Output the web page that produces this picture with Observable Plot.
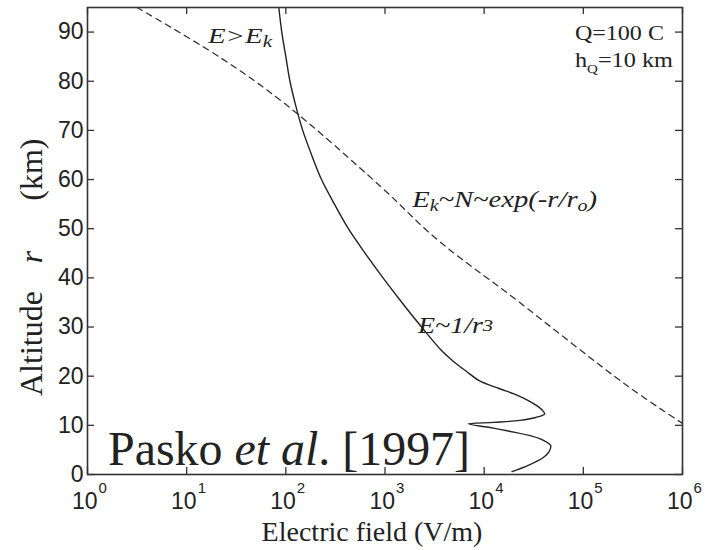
<!DOCTYPE html>
<html><head><meta charset="utf-8">
<script src="https://cdn.jsdelivr.net/npm/d3@7"></script>
<script src="https://cdn.jsdelivr.net/npm/@observablehq/plot@0.6"></script>
<style>body{margin:0;background:#fff}</style>
</head><body><div id="chart"></div>
<script>
// ---- data ----
const decades = [0, 1, 2, 3, 4, 5, 6];
const altTicks = [0, 10, 20, 30, 40, 50, 60, 70, 80, 90];
// solid curve: electric field of the charge (V/m) vs altitude (km)
const fieldAlt = [95, 90, 85, 80, 75, 70, 65, 60, 55, 50, 45, 40, 35, 30, 25, 23, 21, 19.1, 17.5, 16.4, 15, 14, 13, 12.3, 11.6, 11.0, 10.6, 10.3, 9.6, 8.9, 7.3, 5.9, 4.6, 3.5, 1.8, 0.6];
const fieldE = [85, 91, 100, 110, 126, 148, 182, 229, 309, 427, 631, 955, 1480, 2340, 3800, 4900, 6600, 8900, 14100, 20000, 28200, 33900, 38900, 40700, 33100, 22900, 12600, 6920, 11000, 17000, 36300, 46800, 45000, 39800, 27500, 19100];
// dashed curve: breakdown threshold field Ek (V/m) vs altitude (km)
const ekAlt = [95, 84.8, 75.6, 58.7, 47.9, 35.9, 18.1, 10.4];
const ekE = [3.16, 21.9, 95.5, 891, 3310, 19950, 275000, 1000000];

const solid = fieldAlt.map((a, i) => ({alt: a, E: fieldE[i]}));
const dashed = ekAlt.map((a, i) => ({alt: a, E: ekE[i]}));

const SANS = "Liberation Sans, Arial, Helvetica, sans-serif";
const SERIF = "Liberation Serif, Times New Roman, Times, serif";
const W = 712, H = 550, ML = 87, MR = 30, MT = 7, MB = 76;
const tickPx = 7;
const yTickLen = tickPx * 95 / (H - MT - MB);
const xTickFac = Math.pow(1e6, tickPx / (W - ML - MR));

const chart = Plot.plot({
  width: W, height: H,
  marginLeft: ML, marginRight: MR, marginTop: MT, marginBottom: MB,
  style: {fontFamily: SANS, background: "#fff", color: "#222"},
  x: {type: "log", domain: [1, 1e6], axis: null},
  y: {domain: [0, 95], axis: null},
  marks: [
    Plot.line(dashed, {x: "E", y: "alt", stroke: "#333", strokeWidth: 1.3, strokeDasharray: "6,5", curve: "catmull-rom"}),
    Plot.line(solid, {x: "E", y: "alt", stroke: "#222", strokeWidth: 1.4, curve: "catmull-rom"}),
    Plot.frame({stroke: "#333", strokeWidth: 1.6}),
    Plot.ruleX(decades, {x: d => 10 ** d, y1: 0, y2: yTickLen, stroke: "#333", strokeWidth: 1.3}),
    Plot.ruleX(decades, {x: d => 10 ** d, y1: 95, y2: 95 - yTickLen, stroke: "#333", strokeWidth: 1.3}),
    Plot.ruleY(altTicks, {y: d => d, x1: 1, x2: xTickFac, stroke: "#333", strokeWidth: 1.3}),
    Plot.ruleY(altTicks, {y: d => d, x1: 1e6 / xTickFac, x2: 1e6, stroke: "#333", strokeWidth: 1.3}),
    Plot.text(altTicks, {x: 1, y: d => d, text: d => String(d), textAnchor: "end", dx: -4, fontSize: 23, fill: "#222"}),
    Plot.text(decades, {x: d => 10 ** d, y: 0, text: () => "10", textAnchor: "end", dx: 10, dy: 27, fontSize: 23, fill: "#222"}),
    Plot.text(decades, {x: d => 10 ** d, y: 0, text: d => String(d), textAnchor: "start", dx: 11, dy: 14, fontSize: 15, fill: "#222"})
  ]
});
document.getElementById("chart").appendChild(chart);

const svg = d3.select(chart);
const sx = chart.scale("x"), sy = chart.scale("y");

function rich(x, y, parts, size, family, len) {
  const t = svg.append("text")
    .attr("x", sx.apply(x)).attr("y", sy.apply(y))
    .style("font-family", family).style("font-size", size + "px")
    .attr("fill", "#222").attr("text-anchor", "start");
  if (len) t.attr("textLength", len).attr("lengthAdjust", "spacingAndGlyphs");
  let prev = 0;
  for (const p of parts) {
    const shift = p.shift || 0;
    const ts = t.append("tspan").text(p.t).style("font-family", family);
    if (p.i) ts.style("font-style", "italic");
    if (p.fs) ts.style("font-size", p.fs + "px");
    if (shift !== prev) ts.attr("dy", shift - prev);
    prev = shift;
  }
  return t;
}

rich(16.6, 87.6, [{t: "E>E", i: 1}, {t: "k", i: 1, fs: 16, shift: 4}], 22, SERIF, 64);
rich(83200, 88.3, [{t: "Q=100 C"}], 21, SERIF, 89);
rich(83200, 82.7, [{t: "h"}, {t: "Q", fs: 13, shift: 6}, {t: "=10 km"}], 21, SERIF, 98);
rich(1900, 54.3, [{t: "E", i: 1}, {t: "k", i: 1, fs: 16, shift: 4}, {t: "~N~exp(-r/r", i: 1}, {t: "o", i: 1, fs: 16, shift: 4}, {t: ")", i: 1}], 23, SERIF, 185);
rich(2180, 28.7, [{t: "E~1/r", i: 1}, {t: "3", i: 1, fs: 17, shift: -2}], 23, SERIF, 75);
rich(1.63, 1.8, [{t: "Pasko "}, {t: "et al", i: 1}, {t: ". [1997]"}], 48, SERIF, 362);

// axis titles
svg.append("text")
  .attr("transform", "translate(372,541)")
  .attr("text-anchor", "middle").style("font-family", SERIF).style("font-size", "28px").attr("fill", "#222")
  .text("Electric field (V/m)");
const yt = svg.append("text")
  .attr("transform", "translate(42,396) rotate(-90)")
  .attr("text-anchor", "start").style("font-family", SERIF).style("font-size", "32px").attr("fill", "#222");
yt.append("tspan").style("font-family", SERIF).text("Altitude");
yt.append("tspan").attr("dx", 28).style("font-family", SERIF).style("font-style", "italic").text("r");
yt.append("tspan").attr("dx", 50).style("font-family", SERIF).text("(km)");
</script>
</body></html>
